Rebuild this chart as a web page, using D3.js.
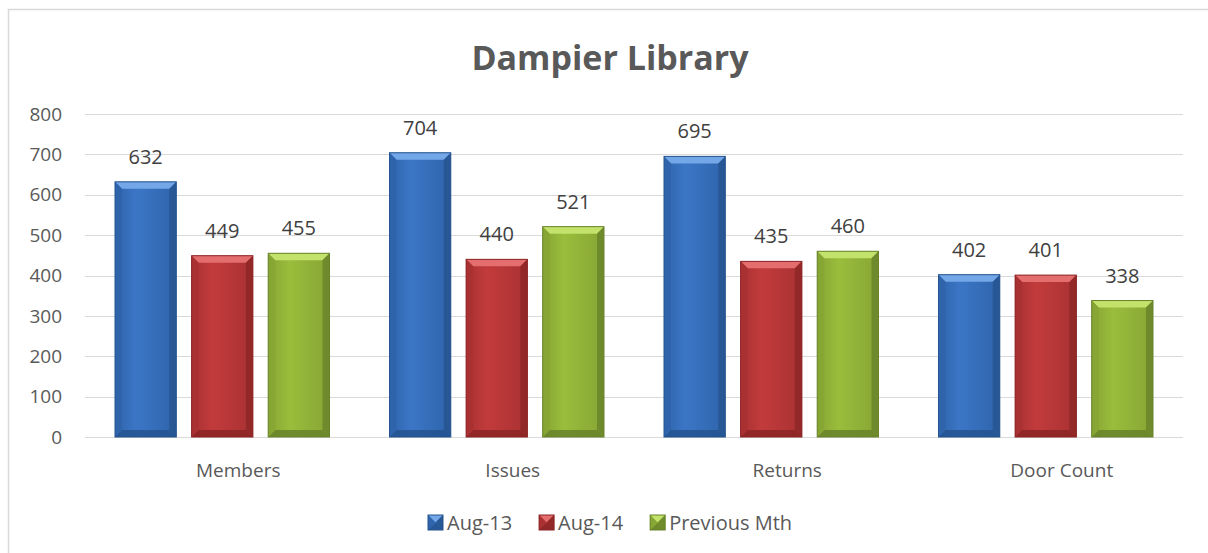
<!DOCTYPE html>
<html>
<head>
<meta charset="utf-8">
<script src="https://cdn.jsdelivr.net/npm/d3@7"></script>
<style>
  body { margin: 0; background: #fff; }
  text { font-family: "Open Sans", "Noto Sans", sans-serif; }
</style>
</head>
<body>
<svg id="chart" width="1208" height="553"></svg>
<script>
const categories = ["Members", "Issues", "Returns", "Door Count"];
const seriesNames = ["Aug-13", "Aug-14", "Previous Mth"];
const aug13 = [632, 704, 695, 402];
const aug14 = [449, 440, 435, 401];
const prevMth = [455, 521, 460, 338];
const yTicks = [0, 100, 200, 300, 400, 500, 600, 700, 800];

const series = [aug13, aug14, prevMth];
const colors = [
  { base: "#3b76c6", light: "#73a7e8", dark: "#25548f", side: "#2f64ab" },
  { base: "#c23b3c", light: "#e36e6d", dark: "#8c2526", side: "#a93132" },
  { base: "#9abd3c", light: "#c3e26c", dark: "#68832a", side: "#86a534" }
];

const svg = d3.select("#chart");
const W = 1208, H = 553;
const margin = { top: 114, right: 25, bottom: 116, left: 85 };
const plotW = W - margin.left - margin.right;
const plotH = H - margin.top - margin.bottom;

// outer border
svg.append("rect")
  .attr("x", 8.5).attr("y", 9.5)
  .attr("width", 1220).attr("height", 560)
  .attr("fill", "none").attr("stroke", "#d9d9d9").attr("stroke-width", 1.5);

svg.append("text")
  .attr("x", 610).attr("y", 70)
  .attr("text-anchor", "middle")
  .attr("font-size", 34).attr("font-weight", "bold")
  .attr("fill", "#595959")
  .text("Dampier Library");

const g = svg.append("g").attr("transform", `translate(${margin.left},${margin.top})`);

const x0 = d3.scaleBand().domain(categories).range([0, plotW]).paddingInner(0).paddingOuter(0);
const x1 = d3.scaleBand().domain(d3.range(3)).range([30, x0.bandwidth() - 30]).paddingInner(0.2).paddingOuter(0);
const y = d3.scaleLinear().domain([0, 800]).range([plotH, 0]);

// gridlines
g.append("g").selectAll("line").data(yTicks).join("line")
  .attr("x1", 0).attr("x2", plotW)
  .attr("y1", d => Math.round(y(d)) + 0.5).attr("y2", d => Math.round(y(d)) + 0.5)
  .attr("stroke", "#d9d9d9").attr("stroke-width", 1.2);

// y labels
g.append("g").selectAll("text").data(yTicks).join("text")
  .attr("x", -23).attr("y", d => y(d)).attr("dy", "0.35em")
  .attr("text-anchor", "end").attr("font-size", 19).attr("fill", "#595959")
  .text(d => d);

// x labels (Excel puts them a little right of the bar group)
g.append("g").selectAll("text").data(categories).join("text")
  .attr("x", d => x0(d) + x0.bandwidth() / 2 + 16).attr("y", plotH + 40)
  .attr("text-anchor", "middle").attr("font-size", 19).attr("fill", "#595959")
  .text(d => d);

const defs = svg.append("defs");
colors.forEach((c, i) => {
  const gr = defs.append("linearGradient").attr("id", "grad" + i)
    .attr("x1", "0%").attr("x2", "100%").attr("y1", "0%").attr("y2", "0%");
  gr.append("stop").attr("offset", "0%").attr("stop-color", c.side);
  gr.append("stop").attr("offset", "35%").attr("stop-color", c.base);
  gr.append("stop").attr("offset", "100%").attr("stop-color", c.side);
});

function drawBar(sel, bx, by, bw, bh, i) {
  const c = colors[i];
  const b = Math.min(7, bh / 2);
  sel.append("rect").attr("x", bx).attr("y", by).attr("width", bw).attr("height", bh)
    .attr("fill", `url(#grad${i})`);
  // top bevel
  sel.append("polygon")
    .attr("points", [[bx, by], [bx + bw, by], [bx + bw - b, by + b], [bx + b, by + b]].join(" "))
    .attr("fill", c.light);
  // bottom bevel
  sel.append("polygon")
    .attr("points", [[bx, by + bh], [bx + bw, by + bh], [bx + bw - b, by + bh - b], [bx + b, by + bh - b]].join(" "))
    .attr("fill", c.dark).attr("opacity", 0.85);
  // left bevel
  sel.append("polygon")
    .attr("points", [[bx, by], [bx + b, by + b], [bx + b, by + bh - b], [bx, by + bh]].join(" "))
    .attr("fill", c.side).attr("opacity", 0.9);
  // right bevel
  sel.append("polygon")
    .attr("points", [[bx + bw, by], [bx + bw - b, by + b], [bx + bw - b, by + bh - b], [bx + bw, by + bh]].join(" "))
    .attr("fill", c.dark).attr("opacity", 0.8);
  sel.append("rect").attr("x", bx).attr("y", by).attr("width", bw).attr("height", bh)
    .attr("fill", "none").attr("stroke", c.dark).attr("stroke-width", 1);
}

categories.forEach((cat, ci) => {
  series.forEach((s, si) => {
    const v = s[ci];
    const bx = x0(cat) + x1(si);
    const bw = x1.bandwidth();
    const by = y(v);
    const bh = y(0) - y(v);
    drawBar(g.append("g"), bx, by, bw, bh, si);
    g.append("text")
      .attr("x", bx + bw / 2).attr("y", by - 18)
      .attr("text-anchor", "middle").attr("font-size", 20).attr("fill", "#404040")
      .text(v);
  });
});

// legend
const legendItems = seriesNames.map((n, i) => ({ name: n, i }));
const legend = svg.append("g").attr("transform", "translate(0,523)");
let lx = 428;
legendItems.forEach(d => {
  const item = legend.append("g").attr("transform", `translate(${lx},0)`);
  drawBar(item, 0, -8, 15, 15, d.i);
  const t = item.append("text").attr("x", 19).attr("y", 0).attr("dy", "0.35em")
    .attr("font-size", 20).attr("fill", "#595959").text(d.name);
  lx += 19 + t.node().getComputedTextLength() + 27;
});
</script>
</body>
</html>
